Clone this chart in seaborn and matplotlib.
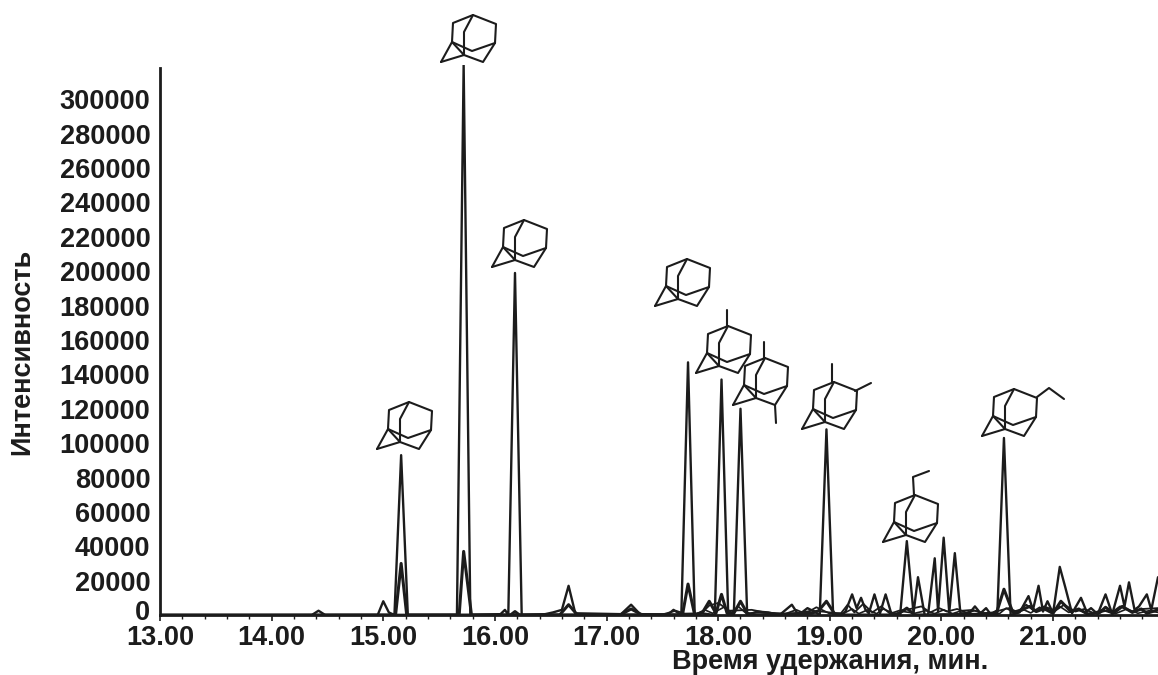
import matplotlib
matplotlib.use("Agg")
import matplotlib.pyplot as plt
from matplotlib.lines import Line2D
from matplotlib.ticker import MultipleLocator
from matplotlib.transforms import ScaledTranslation
import seaborn as sns

x_ticks = [13.0, 14.0, 15.0, 16.0, 17.0, 18.0, 19.0, 20.0, 21.0]
x_tick_labels = ["13.00", "14.00", "15.00", "16.00", "17.00", "18.00", "19.00", "20.00", "21.00"]
y_ticks = list(range(0, 300001, 20000))

# first trace, the tall peaks
time_a = [13.00, 14.36, 14.42, 14.48, 14.95, 15.00, 15.05, 15.10, 15.16, 15.22, 15.66, 15.72, 15.78,
          16.05, 16.09, 16.12, 16.18, 16.24, 16.45, 16.52, 16.60, 16.66, 16.72, 17.13, 17.22, 17.30,
          17.55, 17.60, 17.67, 17.73, 17.79, 17.85, 17.97, 18.03, 18.09, 18.14, 18.20, 18.26, 18.35,
          18.45, 18.55, 18.66, 18.72, 18.80, 18.86, 18.91, 18.97, 19.03, 19.10, 19.14, 19.20, 19.24,
          19.28, 19.32, 19.35, 19.40, 19.45, 19.50, 19.55, 19.63, 19.69, 19.75, 19.79, 19.85, 19.88,
          19.94, 19.97, 20.02, 20.07, 20.12, 20.17, 20.25, 20.30, 20.35, 20.40, 20.44, 20.50, 20.56,
          20.62, 20.70, 20.78, 20.82, 20.87, 20.91, 20.95, 21.00, 21.06, 21.11, 21.17, 21.25, 21.30,
          21.34, 21.40, 21.47, 21.53, 21.60, 21.64, 21.68, 21.73, 21.77, 21.84, 21.88, 21.94]
int_a = [0, 0, 2500, 0, 0, 8000, 1500, 0, 93000, 0, 0, 320000, 0,
         500, 3000, 0, 199000, 0, 500, 1500, 3000, 17000, 1000, 500, 6000, 500,
         300, 3000, 0, 147000, 0, 1000, 0, 137000, 0, 0, 120000, 0, 2000,
         1500, 0, 6000, 0, 4000, 2000, 0, 108000, 0, 0, 2000, 12000, 4000,
         10000, 3000, 1000, 12000, 1000, 12000, 1000, 0, 43000, 1000, 22000, 0, 0,
         33000, 2000, 45000, 1500, 36000, 1000, 1000, 5000, 1000, 4000, 500, 0, 103000,
         0, 1500, 11000, 3000, 17000, 2000, 8000, 1000, 28000, 16000, 1000, 10000, 2000,
         4000, 500, 12000, 500, 17000, 5000, 19000, 3000, 5000, 12000, 3000, 22000]

# second trace, smaller peaks under the tall ones
time_b = [13.00, 15.11, 15.16, 15.21, 15.68, 15.72, 15.79, 16.14, 16.18, 16.22, 16.58, 16.66, 16.74,
          17.12, 17.22, 17.32, 17.68, 17.73, 17.79, 17.86, 17.92, 17.98, 18.03, 18.08, 18.14, 18.20,
          18.26, 18.30, 18.84, 18.90, 18.97, 19.05, 19.60, 19.69, 19.76, 20.45, 20.50, 20.56, 20.64,
          20.72, 20.79, 20.85, 20.93, 21.00, 21.07, 21.16, 21.23, 21.31, 21.42, 21.47, 21.54, 21.62,
          21.71, 21.79, 21.84, 21.94]
int_b = [0, 0, 30000, 0, 0, 37000, 0, 0, 2000, 0, 0, 6000, 0,
         0, 3500, 0, 0, 18000, 0, 1500, 8000, 1000, 12000, 1000, 1000, 8000,
         1000, 0, 1000, 2500, 8000, 0, 0, 4000, 0, 500, 2500, 15000, 1500,
         3000, 5000, 2000, 4000, 1000, 8000, 2000, 3500, 500, 1500, 4500, 1000, 5000,
         1500, 3500, 1000, 3000]

# third trace, noise near the baseline
time_c = [13.00, 17.50, 17.62, 17.70, 17.85, 17.92, 18.00, 18.10, 18.30, 18.42, 18.60, 18.70, 18.78,
          18.88, 19.00, 19.10, 19.16, 19.22, 19.30, 19.38, 19.46, 19.54, 19.62, 19.72, 19.82, 19.90,
          19.98, 20.05, 20.14, 20.22, 20.30, 20.38, 20.46, 20.60, 20.68, 20.76, 20.84, 20.92, 21.02,
          21.10, 21.20, 21.28, 21.36, 21.44, 21.52, 21.60, 21.70, 21.80, 21.94]
int_c = [0, 300, 2500, 800, 1000, 5500, 7000, 2500, 3000, 1500, 600, 3000, 800,
         4500, 800, 1000, 6000, 1500, 6500, 1500, 5000, 800, 2500, 3500, 5000, 1500,
         4000, 2000, 3500, 1500, 2500, 1000, 1500, 4000, 1800, 6000, 2000, 5000, 2500,
         6000, 2000, 3500, 1200, 3000, 1200, 5000, 2000, 3500, 4000]

# fourth trace, low clutter under the late peaks
time_d = [13.00, 17.80, 17.88, 17.95, 18.05, 18.12, 18.18, 18.25, 18.38, 18.62, 18.74, 18.84, 19.12,
          19.20, 19.26, 19.34, 19.42, 19.48, 19.58, 19.66, 19.76, 19.86, 19.94, 20.02, 20.10, 20.18,
          20.28, 20.36, 20.52, 20.58, 20.66, 20.74, 20.80, 20.88, 20.98, 21.06, 21.14, 21.22, 21.32,
          21.40, 21.48, 21.56, 21.66, 21.76, 21.86, 21.94]
int_d = [0, 500, 3000, 1000, 4500, 1500, 5000, 1000, 1500, 500, 1500, 2500, 800,
         3500, 800, 3000, 800, 3500, 800, 2000, 1000, 2500, 800, 3000, 800, 2500,
         3000, 1200, 800, 4000, 1000, 3000, 1200, 4500, 1200, 5000, 1500, 3000, 800,
         1200, 2500, 800, 3500, 1000, 2500, 1500]

# adamantane cage, pixel offsets from its lower left corner
cage_edges = [[(0, 0), (11, -20), (12, -39), (32, -47), (55, -38), (54, -19), (31, -11), (11, -20)],
              [(11, -20), (23, -7), (0, 0)],
              [(23, -7), (42, 0), (54, -19)],
              [(32, -47), (23, -30), (23, -7)]]

# lower left corner of each cage in image pixels, and extra side chains
cages = [(377, 449, []),
         (441, 62, []),
         (492, 267, []),
         (655, 306, []),
         (696, 373, [[(31, -47), (31, -63)]]),
         (733, 405, [[(31, -47), (31, -63)], [(42, 0), (43, 18)]]),
         (802, 429, [[(30, -47), (30, -65)], [(53, -38), (69, -46)]]),
         (883, 542, [[(31, -47), (30, -65), (46, -71)]]),
         (982, 436, [[(55, -39), (67, -48), (82, -37)]])]

W, H = 1158, 675
ink = "#1c1c1c"

sns.set_theme(style="ticks")
plt.rcParams["font.family"] = ["Liberation Sans", "DejaVu Sans"]
plt.rcParams["font.weight"] = "bold"

fig = plt.figure(figsize=(W / 100, H / 100), dpi=100, facecolor="white")
ax = fig.add_axes([160 / W, (H - 615) / H, (W - 160) / W, 550 / H])

sns.lineplot(x=time_d, y=int_d, estimator=None, sort=False, color=ink, lw=1.2, ax=ax)
sns.lineplot(x=time_c, y=int_c, estimator=None, sort=False, color=ink, lw=1.3, ax=ax)
sns.lineplot(x=time_b, y=int_b, estimator=None, sort=False, color=ink, lw=2.2, ax=ax)
sns.lineplot(x=time_a, y=int_a, estimator=None, sort=False, color=ink, lw=1.7, ax=ax)

ax.set_xlim(13.0, 21.94)
ax.set_ylim(0, 320000)
ax.set_facecolor("white")
ax.spines["top"].set_visible(False)
ax.spines["right"].set_visible(False)
ax.spines["left"].set_linewidth(2)
ax.spines["bottom"].set_linewidth(2)
ax.spines["left"].set_color(ink)
ax.spines["bottom"].set_color(ink)
ax.spines["left"].set_bounds(0, 318000)

ax.set_xticks(x_ticks)
ax.set_xticklabels(x_tick_labels, fontsize=19.5, fontweight="bold", color=ink)
ax.xaxis.set_minor_locator(MultipleLocator(0.2))
ax.tick_params(axis="x", which="major", length=4, width=1.2, pad=3, color=ink)
ax.tick_params(axis="x", which="minor", length=3, width=1, color=ink)
ax.set_yticks(y_ticks)
ax.set_yticklabels([str(v) for v in y_ticks], fontsize=19.5, fontweight="bold", color=ink)
ax.tick_params(axis="y", length=0, pad=7)
ax.set_xlabel("")
ax.set_ylabel("")

# the zero label sits a little higher, clear of 13.00
zero_label = ax.get_yticklabels()[0]
zero_label.set_transform(zero_label.get_transform() + ScaledTranslation(0, 5 / 100, fig.dpi_scale_trans))

fig.text(830 / W, 1 - 662 / H, "Время удержания, мин.", fontsize=19.5, fontweight="bold",
         ha="center", va="center", color=ink)
fig.text(22 / W, 1 - 352 / H, "Интенсивность", fontsize=19.5, fontweight="bold",
         rotation=90, ha="center", va="center", color=ink)

for cx, cy, chains in cages:
    for path in cage_edges + chains:
        xs = [(cx + p[0]) / W for p in path]
        ys = [1 - (cy + p[1]) / H for p in path]
        fig.add_artist(Line2D(xs, ys, transform=fig.transFigure, color=ink, lw=1.5, solid_joinstyle="round"))

fig.savefig("out.png", dpi=100, facecolor="white")
